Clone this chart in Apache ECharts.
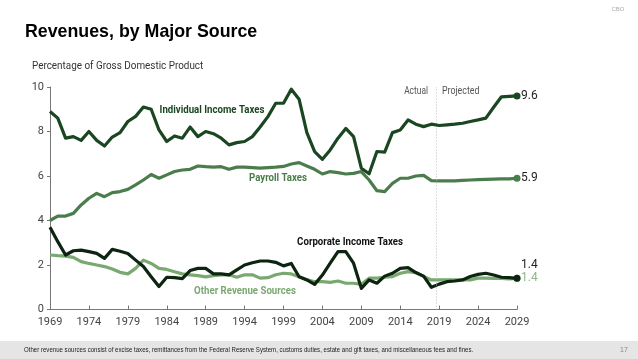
<!DOCTYPE html>
<html><head><meta charset="utf-8">
<script src="https://cdn.jsdelivr.net/npm/echarts@6/dist/echarts.min.js"></script>
<style>html,body{margin:0;padding:0;background:#fff}#c{width:638px;height:359px}</style>
</head><body><div id="c"></div>
<script>
var years = [];
for (var y = 1969; y <= 2029; y++) years.push(y);
var individual = [8.9,8.6,7.7,7.77,7.6,8.0,7.6,7.35,7.75,7.95,
  8.45,8.68,9.1,9.0,8.07,7.55,7.8,7.7,8.2,7.77,
  8.0,7.9,7.7,7.4,7.5,7.55,7.77,8.2,8.67,9.27,
  9.27,9.9,9.45,7.95,7.1,6.75,7.17,7.7,8.14,7.77,
  6.35,6.1,7.1,7.07,7.95,8.07,8.52,8.33,8.22,8.33,
  8.27,8.3,8.33,8.37,8.45,8.52,8.6,9.09,9.56,9.58,9.6];
var payroll = [4.0,4.2,4.2,4.32,4.7,5.0,5.22,5.07,5.25,5.3,
  5.4,5.6,5.82,6.07,5.9,6.05,6.2,6.27,6.3,6.45,
  6.42,6.4,6.42,6.3,6.4,6.4,6.38,6.35,6.38,6.4,
  6.43,6.54,6.6,6.45,6.3,6.09,6.2,6.15,6.09,6.12,
  6.2,5.82,5.34,5.3,5.67,5.9,5.9,6.0,6.03,5.79,
  5.78,5.78,5.78,5.8,5.82,5.84,5.85,5.86,5.87,5.87,5.9];
var corporate = [3.7,3.05,2.45,2.64,2.67,2.6,2.52,2.3,2.7,2.62,
  2.52,2.22,1.93,1.47,1.03,1.45,1.43,1.39,1.75,1.85,
  1.85,1.6,1.6,1.56,1.78,2.0,2.1,2.18,2.18,2.12,
  1.96,2.07,1.47,1.33,1.13,1.55,2.08,2.6,2.6,2.08,
  0.95,1.33,1.18,1.5,1.63,1.85,1.88,1.66,1.5,1.0,
  1.14,1.25,1.28,1.33,1.48,1.58,1.63,1.55,1.45,1.43,1.4];
var other = [2.45,2.42,2.4,2.34,2.15,2.07,2.0,1.93,1.82,1.67,
  1.6,1.85,2.22,2.07,1.85,1.8,1.7,1.6,1.56,1.52,
  1.47,1.52,1.56,1.56,1.45,1.56,1.56,1.41,1.43,1.56,
  1.63,1.6,1.47,1.35,1.25,1.25,1.22,1.28,1.18,1.18,
  1.13,1.41,1.41,1.45,1.48,1.63,1.7,1.66,1.48,1.33,
  1.33,1.33,1.33,1.33,1.33,1.41,1.41,1.4,1.4,1.38,1.4];
var seriesNames = ['Individual Income Taxes','Payroll Taxes','Corporate Income Taxes','Other Revenue Sources'];
var projectionStart = 2018.6;

var F = 'Roboto, sans-serif';
var C = {ind:'#1b4622', pay:'#4b7d4c', corp:'#0d2411', oth:'#7aa871'};

function mk(vals, endDot) {
  return vals.map(function (v, i) {
    var d = {value: [years[i], v]};
    if (endDot && i === vals.length - 1) { d.symbol = 'circle'; d.symbolSize = 7; }
    return d;
  });
}
function line(name, vals, color, lblColor, offY, z) {
  return {
    name: name, type: 'line', data: mk(vals, true), symbol: 'none', showSymbol: true,
    z: z, silent: true, animation: false,
    lineStyle: {color: color, width: 3.2, join: 'round'},
    itemStyle: {color: color},
    endLabel: {show: true, formatter: function (p) { return p.value[1].toFixed(1); },
      color: lblColor, fontSize: 12, fontFamily: F, distance: 4, offset: [0, offY]}
  };
}
function txt(x, y, s, fill, font, align, sx) {
  return {type: 'text', x: x, y: y, scaleX: sx || 1,
    style: {text: s, fill: fill, font: font, align: align || 'left', verticalAlign: 'middle'}};
}
var chart = echarts.init(document.getElementById('c'), null, {renderer: 'canvas'});
var s1 = line(seriesNames[3], other, C.oth, '#8cb884', 0, 2);
var s2 = line(seriesNames[2], corporate, C.corp, '#222', -13, 3);
var s3 = line(seriesNames[1], payroll, C.pay, '#222', 0, 4);
var s4 = line(seriesNames[0], individual, C.ind, '#222', 0, 5);
s4.markLine = {silent: true, symbol: 'none', label: {show: false},
  lineStyle: {type: [1, 2], color: '#bbb', width: 1}, data: [{xAxis: projectionStart}]};

chart.setOption({
  animation: false,
  grid: {left: 50, right: 121, top: 87, bottom: 49.5},
  xAxis: {type: 'value', min: 1969, max: 2029, interval: 5,
    axisLine: {lineStyle: {color: '#777', width: 1}},
    axisTick: {show: true, inside: true, length: 4, lineStyle: {color: '#777'}},
    axisLabel: {color: '#444', fontSize: 11, fontFamily: F, margin: 7, formatter: function (v) { return String(v); }},
    splitLine: {show: false}},
  yAxis: {type: 'value', min: 0, max: 10, interval: 2,
    axisLine: {show: true, lineStyle: {color: '#777', width: 1}},
    axisTick: {show: true, length: 3, lineStyle: {color: '#777'}},
    axisLabel: {color: '#444', fontSize: 11, fontFamily: F, margin: 6},
    splitLine: {show: false}},
  series: [s1, s2, s3, s4],
  graphic: [
    txt(25, 32, 'Revenues, by Major Source', '#000', 'bold 17.8px "Liberation Sans", Arial, sans-serif'),
    txt(32, 66, 'Percentage of Gross Domestic Product', '#333', '11.5px ' + F, 'left', 0.86),
    txt(618, 9, 'CBO', '#aaa', '6px "Liberation Sans", Arial, sans-serif', 'center'),
    txt(212, 110, seriesNames[0], C.ind, 'bold 11.5px ' + F, 'center', 0.84),
    txt(278, 178, seriesNames[1], C.pay, 'bold 11.5px ' + F, 'center', 0.84),
    txt(350, 242, seriesNames[2], '#111', 'bold 11.5px ' + F, 'center', 0.84),
    txt(245, 291, seriesNames[3], '#7aa871', 'bold 11.5px ' + F, 'center', 0.84),
    txt(428, 91, 'Actual', '#555', '10.5px ' + F, 'right', 0.8),
    txt(442, 91, 'Projected', '#555', '10.5px ' + F, 'left', 0.84),
    {type: 'rect', shape: {x: 0, y: 341, width: 638, height: 18}, style: {fill: '#e5e5e5'}},
    txt(24, 350, 'Other revenue sources consist of excise taxes, remittances from the Federal Reserve System, customs duties, estate and gift taxes, and miscellaneous fees and fines.', '#222', '7px "Liberation Sans", Arial, sans-serif', 'left', 0.87),
    txt(624, 350, '17', '#888', '7px "Liberation Sans", Arial, sans-serif', 'center')
  ]
});
</script></body></html>
